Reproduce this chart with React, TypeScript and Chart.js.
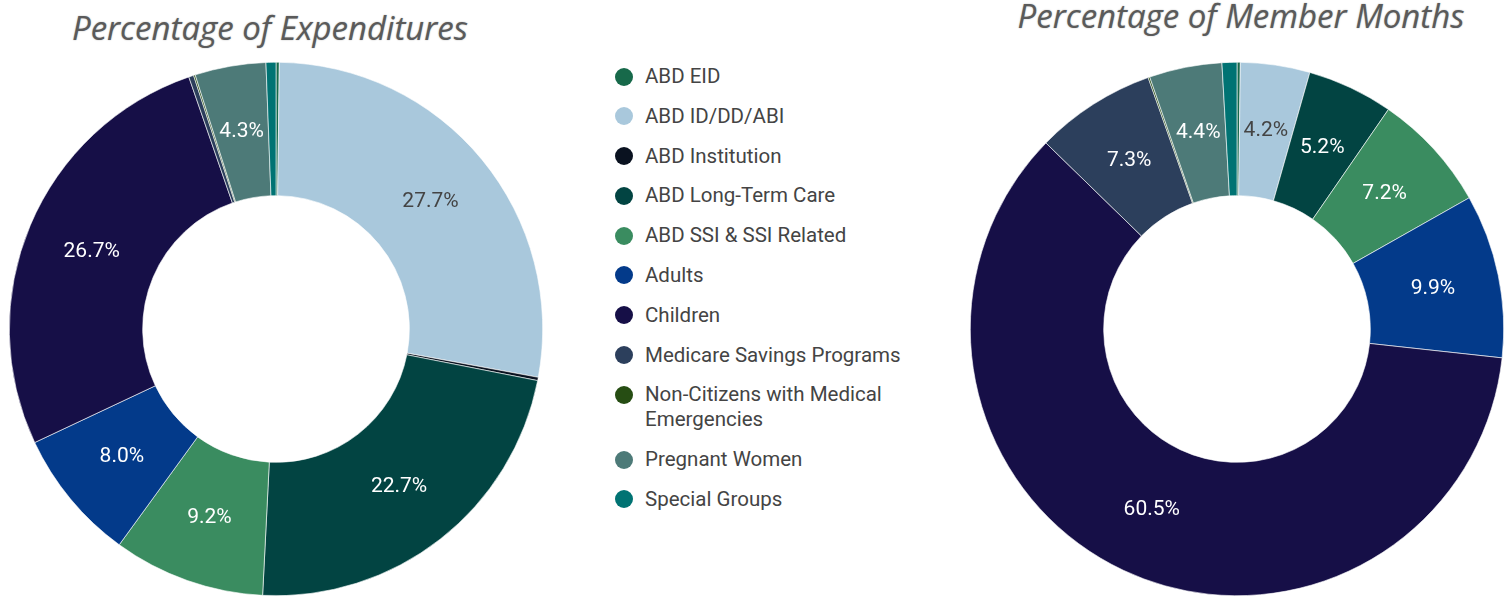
import React, { useEffect, useRef } from "react";
import { Chart, registerables } from "chart.js";

Chart.register(...registerables);

const categories = [
  "ABD EID",
  "ABD ID/DD/ABI",
  "ABD Institution",
  "ABD Long-Term Care",
  "ABD SSI & SSI Related",
  "Adults",
  "Children",
  "Medicare Savings Programs",
  "Non-Citizens with Medical Emergencies",
  "Pregnant Women",
  "Special Groups",
];

const colors = [
  "#17694a",
  "#a9c8dc",
  "#0a1220",
  "#024442",
  "#3a8c60",
  "#033a8a",
  "#160f47",
  "#2c3f5c",
  "#264d13",
  "#4d7a78",
  "#007373",
];

const expenditures = [0.2, 27.7, 0.2, 22.7, 9.2, 8.0, 26.7, 0.3, 0.1, 4.3, 0.6];
const memberMonths = [0.2, 4.2, 0.0, 5.2, 7.2, 9.9, 60.5, 7.3, 0.1, 4.4, 0.9];

const titles = ["Percentage of Expenditures", "Percentage of Member Months"];

const darkLabelIndex = 1;
const labelThreshold = 4;

const labelPlugin = {
  id: "sliceLabels",
  afterDatasetsDraw(chart: any) {
    const ctx = chart.ctx;
    const meta = chart.getDatasetMeta(0);
    const data = chart.data.datasets[0].data as number[];
    ctx.save();
    ctx.font = "21px Roboto";
    ctx.textAlign = "center";
    ctx.textBaseline = "middle";
    meta.data.forEach((arc: any, i: number) => {
      const v = data[i];
      if (v < labelThreshold) return;
      const p = arc.tooltipPosition();
      ctx.fillStyle = i === darkLabelIndex ? "#444444" : "#ffffff";
      ctx.fillText(v.toFixed(1) + "%", p.x, p.y);
    });
    ctx.restore();
  },
};

function Donut({ values }: { values: number[] }) {
  const ref = useRef<HTMLCanvasElement | null>(null);
  useEffect(() => {
    if (!ref.current) return;
    const chart = new Chart(ref.current, {
      type: "doughnut",
      data: {
        labels: categories,
        datasets: [
          {
            data: values,
            backgroundColor: colors,
            borderColor: "#ffffff",
            borderWidth: 0.6,
          },
        ],
      },
      options: {
        animation: false,
        responsive: false,
        maintainAspectRatio: false,
        cutout: "50%",
        layout: { padding: 0 },
        plugins: {
          legend: { display: false },
          tooltip: { enabled: false },
        },
      },
      plugins: [labelPlugin],
    });
    return () => chart.destroy();
  }, [values]);
  return <canvas ref={ref} width={534} height={534} style={{ width: 534, height: 534 }} />;
}

const titleStyle: React.CSSProperties = {
  position: "absolute",
  fontFamily: "'Open Sans', Lato, sans-serif",
  fontStyle: "italic",
  fontSize: 33,
  color: "#5a5a5a",
  whiteSpace: "nowrap",
  transform: "translate(-50%, -50%)",
  textShadow: "0 0 1.5px rgba(0,0,0,0.35)",
};

export default function App() {
  return (
    <div
      style={{
        position: "absolute",
        left: 0,
        top: 0,
        width: 1511,
        height: 597,
        background: "#ffffff",
        overflow: "hidden",
      }}
    >
      <div style={{ ...titleStyle, left: 270, top: 27 }}>{titles[0]}</div>
      <div style={{ ...titleStyle, left: 1241, top: 15 }}>{titles[1]}</div>
      <div style={{ position: "absolute", left: 9, top: 62 }}>
        <Donut values={expenditures} />
      </div>
      <div style={{ position: "absolute", left: 970, top: 62 }}>
        <Donut values={memberMonths} />
      </div>
      <div
        style={{
          position: "absolute",
          left: 615,
          top: 64,
          fontFamily: "Roboto, sans-serif",
          fontSize: 20.5,
          color: "#444444",
        }}
      >
        {categories.map((c, i) => (
          <div
            key={c}
            style={{
              display: "flex",
              alignItems: "flex-start",
              marginBottom: 14.8,
              lineHeight: "25px",
            }}
          >
            <span
              style={{
                display: "inline-block",
                width: 18,
                height: 18,
                borderRadius: 9,
                background: colors[i],
                marginTop: 3.5,
                marginRight: 12,
                flex: "none",
              }}
            />
            <span style={{ width: 272 }}>{c}</span>
          </div>
        ))}
      </div>
    </div>
  );
}
